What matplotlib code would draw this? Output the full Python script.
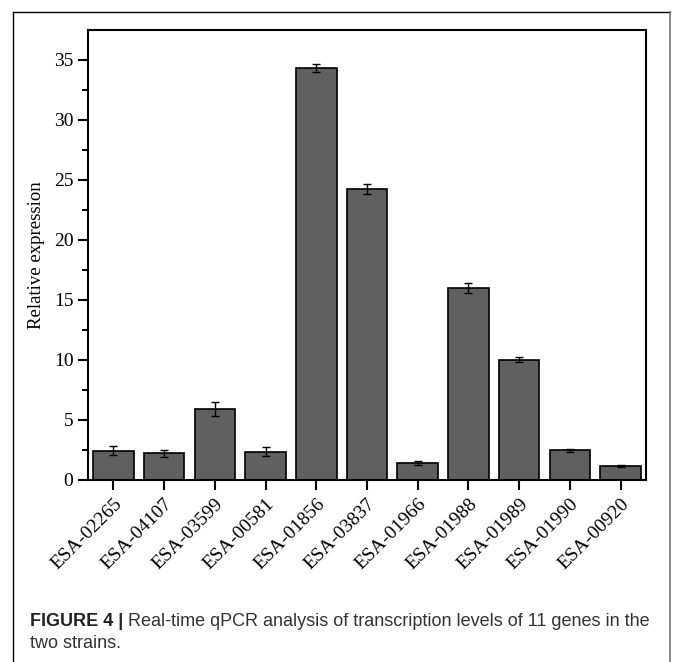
import numpy as np
import matplotlib
matplotlib.use("Agg")
import matplotlib.pyplot as plt
from matplotlib.lines import Line2D

# gene ids and relative expression (mean, error)
genes = ["ESA-02265", "ESA-04107", "ESA-03599", "ESA-00581", "ESA-01856", "ESA-03837",
         "ESA-01966", "ESA-01988", "ESA-01989", "ESA-01990", "ESA-00920"]
expression = [2.43, 2.22, 5.92, 2.36, 34.3, 24.25, 1.42, 16.0, 10.03, 2.47, 1.17]
errors = [0.37, 0.27, 0.58, 0.38, 0.33, 0.44, 0.2, 0.43, 0.2, 0.15, 0.12]

caption_bold = "FIGURE 4 |"
caption_rest = " Real-time qPCR analysis of transcription levels of 11 genes in the"
caption_line2 = "two strains."

W, H = 673, 662
fig = plt.figure(figsize=(W / 100, H / 100), dpi=100)

# outer frame of the figure panel
fig.add_artist(Line2D([13 / W, 13 / W], [0, 1 - 12 / H], color="black", lw=1.0, transform=fig.transFigure))
fig.add_artist(Line2D([13 / W, 670 / W], [1 - 12 / H, 1 - 12 / H], color="black", lw=1.0, transform=fig.transFigure))
fig.add_artist(Line2D([670 / W, 670 / W], [0, 1 - 12 / H], color="#777777", lw=1.2, transform=fig.transFigure))

ax = fig.add_axes([88 / W, 1 - 480 / H, 558 / W, 450 / H])

x = np.arange(len(genes))
ax.bar(x, expression, width=0.8, color="#606060", edgecolor="black", linewidth=1.2,
       yerr=errors, error_kw=dict(ecolor="black", elinewidth=1.0, capsize=3, capthick=1.0))

ax.set_xlim(-0.5, len(genes) - 0.5)
ax.set_ylim(0, 37.5)
ax.set_yticks(np.arange(0, 36, 5))
ax.set_yticks(np.arange(2.5, 37.5, 5), minor=True)
ax.set_xticks(x)

serif = "Liberation Serif"
ax.set_xticklabels(genes, rotation=45, ha="right", rotation_mode="anchor", fontfamily=serif, fontsize=14)
for lab in ax.get_yticklabels():
    lab.set_fontfamily(serif)
    lab.set_fontsize(14)
ax.set_ylabel("Relative expression", fontfamily=serif, fontsize=13.5, labelpad=6)

ax.tick_params(axis="both", which="major", direction="out", length=7, width=1.5)
ax.tick_params(axis="y", which="minor", direction="out", length=4, width=1.5)
ax.tick_params(axis="x", which="major", pad=4)
for s in ax.spines.values():
    s.set_linewidth(1.5)

# caption
sans = ["Liberation Sans Narrow", "Liberation Sans", "DejaVu Sans"]
t = fig.text(30 / W, 1 - 621 / H, caption_bold, fontfamily=sans, fontsize=13, fontweight="bold",
             va="center", ha="left", color="#222222")
fig.canvas.draw()
bb = t.get_window_extent()
fig.text(bb.x1 / W, 1 - 621 / H, caption_rest, fontfamily=sans, fontsize=13,
         va="center", ha="left", color="#333333")
fig.text(30 / W, 1 - 644 / H, caption_line2, fontfamily=sans, fontsize=13,
         va="center", ha="left", color="#333333")

fig.savefig("out.png", dpi=100)
